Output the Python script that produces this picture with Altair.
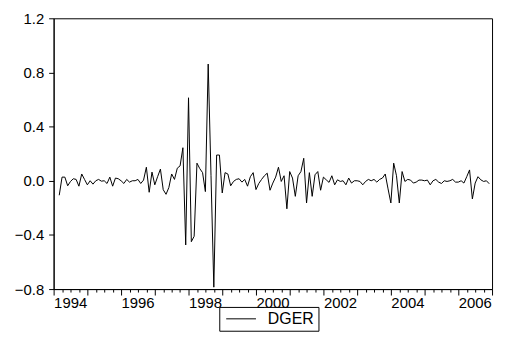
import altair as alt
import pandas as pd

# DGER monthly, 1994M03 .. 2006M12
dger = [
    -0.107, 0.027, 0.027, -0.037, -0.005, 0.015, 0.010, -0.040, 0.050, 0.010,
    -0.030, 0.000, -0.025, 0.000, 0.010, -0.003, 0.000, -0.020, 0.027, -0.040,
    0.020, 0.015, 0.000, -0.020, 0.010, -0.010, 0.000, 0.000, 0.010, -0.020,
    0.005, 0.100, -0.085, 0.064, -0.030, 0.030, 0.086, -0.066, -0.100, -0.050,
    0.050, 0.010, 0.093, 0.110, 0.244, -0.474, 0.613, -0.450, -0.410, 0.130,
    0.090, 0.060, -0.080, 0.862, 0.040, -0.786, 0.190, 0.190, -0.090, 0.060,
    0.050, -0.037, -0.005, 0.010, 0.015, -0.010, 0.010, -0.040, 0.030, 0.060,
    -0.065, -0.020, 0.010, 0.037, 0.056, -0.070, -0.017, 0.027, 0.100, -0.005,
    0.037, -0.207, 0.068, 0.020, -0.115, 0.037, 0.068, 0.166, -0.164, 0.060,
    -0.115, 0.044, 0.068, -0.070, 0.027, 0.007, -0.012, 0.037, -0.030, 0.007,
    -0.005, 0.000, -0.030, 0.020, -0.017, 0.000, 0.000, -0.005, -0.030, -0.005,
    0.010, 0.000, 0.010, -0.010, 0.010, 0.020, 0.050, -0.060, -0.164, 0.130,
    0.037, -0.164, 0.068, -0.005, 0.010, 0.005, -0.017, -0.010, 0.005, 0.005,
    0.000, 0.005, -0.030, 0.000, 0.010, -0.010, -0.020, 0.000, -0.005, 0.000,
    0.010, -0.010, -0.010, 0.000, -0.017, 0.030, 0.080, -0.134, -0.017, 0.030,
    0.007, -0.005, 0.000, -0.022,
]
start_year = 1994
start_month = 3  # first observation: March 1994

t = [start_year + (start_month - 1 + i) / 12 for i in range(len(dger))]
df = pd.DataFrame({"t": t, "v": dger, "series": ["DGER"] * len(dger)})

x_values = [1994 + q / 4 for q in range(0, 13 * 4 + 1)]
y_values = [-0.8, -0.4, 0.0, 0.4, 0.8, 1.2]
FONT = "Liberation Sans"

chart = alt.Chart(df).mark_line(strokeWidth=1).encode(
    x=alt.X(
        "t:Q",
        scale=alt.Scale(domain=[1994, 2007], nice=False, zero=False),
        axis=alt.Axis(
            title=None,
            values=x_values,
            labelExpr="(datum.value % 2 == 0) ? format(datum.value, 'd') : ''",
            labelAlign="left",
            labelOverlap=False,
            labelFlush=False,
            labelBound=False,
            labelPadding=1,
            tickSize={"condition": {"test": "datum.value % 1 == 0", "value": 6}, "value": 3},
            grid=False,
        ),
    ),
    y=alt.Y(
        "v:Q",
        scale=alt.Scale(domain=[-0.8, 1.2], nice=False, zero=False),
        axis=alt.Axis(title=None, values=y_values, format=".1f", grid=False,
                      tickSize=5, labelPadding=5),
    ),
    color=alt.Color(
        "series:N",
        scale=alt.Scale(range=["black"]),
        legend=alt.Legend(
            title=None,
            orient="none",
            legendX=167,
            legendY=291,
            symbolType="M-2,0H2",
            symbolSize=225,
            symbolStrokeWidth=1,
            symbolOffset=10,
            strokeColor="black",
            padding=4,
            labelOffset=19,
            labelExpr="datum.label + '\u00a0\u00a0\u00a0\u00a0\u00a0'",
            labelFontSize=16,
            labelFont=FONT,
            labelColor="black",
        ),
    ),
).properties(
    width=442,
    height=273,
    autosize=alt.AutoSizeParams(type="none"),
    padding={"left": 46, "top": 9, "right": 5, "bottom": 55},
).configure_view(
    stroke="black", strokeWidth=1
).configure_axis(
    domainColor="black", tickColor="black", labelColor="black",
    labelFont=FONT, labelFontSize=15, domainWidth=1, tickWidth=1,
)

chart.save("out.html", embed_options={"renderer": "svg", "actions": False})
